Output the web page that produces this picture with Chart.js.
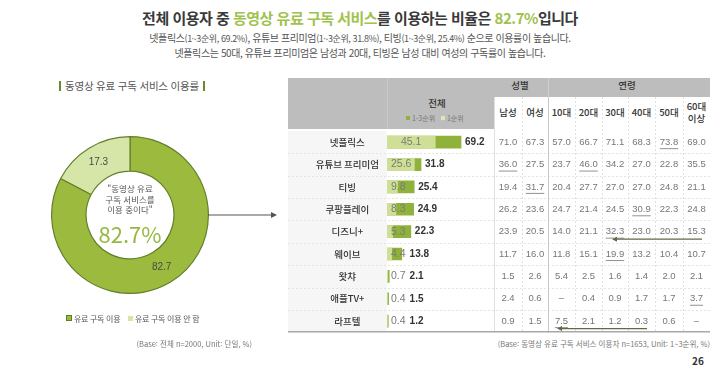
<!DOCTYPE html>
<html lang="ko">
<head>
<meta charset="utf-8">
<script src="https://cdn.jsdelivr.net/npm/chart.js@4.4.1/dist/chart.umd.min.js"></script>
<style>
  body { margin: 0; width: 720px; height: 377px; background: #fff; position: relative; overflow: hidden;
         font-family: "Noto Sans CJK KR", "Noto Sans", sans-serif; color: #333; }
  .abs { position: absolute; }
  .title { top: 8px; left: 0; width: 720px; text-align: center; font-size: 15px; font-weight: 700;
           line-height: 20px; letter-spacing: -0.5px; color: #3a3a3a; }
  .title span { color: #a0c24e; }
  .sub { left: 0; width: 720px; text-align: center; font-size: 10px; line-height: 14px; color: #555; letter-spacing: -0.4px; }
  .sub small { font-size: 9px; }
  .sect { left: 55px; top: 79px; font-size: 10.5px; line-height: 14px; color: #555; letter-spacing: -0.2px; }
  .sect b { display: inline-block; width: 2px; height: 10px; background: #6b8a2a; vertical-align: -1px; margin: 0 4px; }
  .quote { left: 80px; top: 183px; width: 100px; text-align: center; font-size: 8.5px; line-height: 10.5px; color: #555; }
  .big { left: 70px; top: 219px; width: 120px; text-align: center; font-size: 22px; line-height: 28px; color: #96b843; }
  .leg { top: 313px; font-size: 8px; line-height: 12px; color: #555; letter-spacing: -0.3px; }
  .sq { display: inline-block; width: 5px; height: 5px; margin-right: 2px; vertical-align: 1px; }
  .base { font-size: 7.5px; line-height: 10px; color: #777; white-space: nowrap; }
  .hd { background: #bdbdbd; }
  .th { font-size: 9.5px; line-height: 12px; color: #333; font-weight: 500; text-align: center; white-space: nowrap; }
</style>
</head>
<body>
<div class="abs title">전체 이용자 중 <span>동영상 유료 구독 서비스</span>를 이용하는 비율은 <span>82.7%</span>입니다</div>
<div class="abs sub" style="top:31px">넷플릭스<small>(1~3순위, 69.2%)</small>, 유튜브 프리미엄<small>(1~3순위, 31.8%)</small>, 티빙<small>(1~3순위, 25.4%)</small> 순으로 이용률이 높습니다.</div>
<div class="abs sub" style="top:46px">넷플릭스는 50대, 유튜브 프리미엄은 남성과 20대, 티빙은 남성 대비 여성의 구독률이 높습니다.</div>

<div class="abs sect"><b></b>동영상 유료 구독 서비스 이용률<b></b></div>

<div class="abs" style="left:51px;top:136px;width:158px;height:158px"><canvas id="donut"></canvas></div>
<div class="abs quote">"동영상 유료<br>구독 서비스를<br>이용 중이다"</div>
<div class="abs big">82.7%</div>

<div class="abs leg" style="left:66px"><span class="sq" style="background:#9cbb3e;border:1px solid #5f7d22;width:4px;height:4px"></span>유료 구독 이용</div>
<div class="abs leg" style="left:128px"><span class="sq" style="background:#d6e6a8"></span>유료 구독 이용 안 함</div>
<div class="abs base" style="right:468px;top:339px">(Base: 전체 n=2000, Unit: 단일, %)</div>

<svg class="abs" style="left:205px;top:209px" width="75" height="12">
  <line x1="3" y1="6" x2="68" y2="6" stroke="#555" stroke-width="1"/>
  <path d="M66 3 L72 6 L66 9 Z" fill="#555"/>
</svg>

<div class="abs hd" style="left:288px;top:78px;width:422px;height:19px"></div>
<div class="abs hd" style="left:288px;top:97px;width:206px;height:32px"></div>
<div class="abs" style="left:387px;top:78px;width:1px;height:51px;background:#cacaca"></div>
<div class="abs" style="left:548px;top:78px;width:1px;height:19px;background:#cfcfcf"></div>
<div class="abs th" style="left:490px;top:79px;width:60px">성별</div>
<div class="abs th" style="left:597px;top:79px;width:60px">연령</div>
<div class="abs th" style="left:407px;top:97px;width:60px">전체</div>
<div class="abs" style="left:406px;top:113px;font-size:7px;line-height:10px;color:#777;white-space:nowrap">
  <span class="sq" style="background:#8fb33a;width:4px;height:4px"></span>1-3순위&nbsp;&nbsp;
  <span class="sq" style="background:#dbe8b4;width:4px;height:4px"></span>1순위</div>
<div id="subhead"></div>

<div class="abs" style="left:288px;top:97px;width:422px;height:241px"><canvas id="bars"></canvas></div>

<div class="abs base" style="right:10px;top:339px">(Base: 동영상 유료 구독 서비스 이용자 n=1653, Unit: 1~3순위, %)</div>
<div class="abs" style="left:688px;top:353px;width:20px;text-align:center;font-size:10px;font-weight:700;color:#333">26</div>

<script>
const donutLabels = ['유료 구독 이용', '유료 구독 이용 안 함'];
const donutValues = [82.7, 17.3];

const services = ['넷플릭스', '유튜브 프리미엄', '티빙', '쿠팡플레이', '디즈니+', '웨이브', '왓챠', '애플TV+', '라프텔'];
const top1 = [45.1, 25.6, 9.8, 8.3, 5.3, 4.4, 0.7, 0.4, 0.4];
const top3 = [69.2, 31.8, 25.4, 24.9, 22.3, 13.8, 2.1, 1.5, 1.2];

const segments = ['남성', '여성', '10대', '20대', '30대', '40대', '50대', '60대\n이상'];
const male   = [71.0, 36.0, 19.4, 26.2, 23.9, 11.7, 1.5, 2.4, 0.9];
const female = [67.3, 27.5, 31.7, 23.6, 20.5, 16.0, 2.6, 0.6, 1.5];
const age10  = [57.0, 23.7, 20.4, 24.7, 14.0, 11.8, 5.4, null, 7.5];
const age20  = [66.7, 46.0, 27.7, 21.4, 21.1, 15.1, 2.5, 0.4, 2.1];
const age30  = [71.1, 34.2, 27.0, 24.5, 32.3, 19.9, 1.6, 0.9, 1.2];
const age40  = [68.3, 27.0, 27.0, 30.9, 23.0, 13.2, 1.4, 1.7, 0.3];
const age50  = [73.8, 22.8, 24.8, 22.3, 20.3, 10.4, 2.0, 1.7, 0.6];
const age60  = [69.0, 35.5, 21.1, 24.8, 15.3, 10.7, 2.1, 3.7, null];
// [row, column] of the underlined (highest) cells
const underlined = [[0, 6], [1, 0], [1, 3], [2, 1], [3, 5], [4, 4], [5, 4], [7, 7], [8, 2]];

const columns = [male, female, age10, age20, age30, age40, age50, age60];
const colX = [220, 247, 273.5, 300.5, 327, 353.5, 381, 408.5];   // canvas px, column centres
const lineX = [206, 234, 260, 287, 314, 340, 367, 395];

// sub header of the table
let sh = '';
segments.forEach(function (s, i) {
  const lines = s.split('\n');
  const top = lines.length > 1 ? 100 : 106;
  sh += '<div class="abs th" style="left:' + (288 + colX[i] - 20) + 'px;top:' + top + 'px;width:40px">' + lines.join('<br>') + '</div>';
});
document.getElementById('subhead').innerHTML = sh;

const donutText = {
  id: 'donutText',
  afterDatasetsDraw(chart) {
    const ctx = chart.ctx;
    ctx.save();
    ctx.font = '10px "Liberation Sans", sans-serif';
    ctx.fillStyle = '#4a4a4a';
    ctx.textAlign = 'center';
    ctx.textBaseline = 'middle';
    chart.getDatasetMeta(0).data.forEach(function (arc, i) {
      const p = arc.tooltipPosition();
      ctx.fillText(donutValues[i].toFixed(1), p.x, p.y);
    });
    ctx.restore();
  }
};

new Chart(document.getElementById('donut'), {
  type: 'doughnut',
  data: {
    labels: donutLabels,
    datasets: [{
      data: donutValues,
      backgroundColor: ['#9cbb3e', '#d6e6a8'],
      borderColor: '#62802a',
      borderWidth: 1.2
    }]
  },
  options: {
    responsive: true,
    maintainAspectRatio: false,
    animation: false,
    cutout: '56%',
    plugins: { legend: { display: false }, tooltip: { enabled: false } }
  },
  plugins: [donutText]
});

const tableText = {
  id: 'tableText',
  beforeDraw(chart) {
    const ctx = chart.ctx;
    const y = chart.scales.y;
    const top = chart.chartArea.top, bottom = chart.chartArea.bottom;
    ctx.save();
    ctx.fillStyle = '#f6f6f6';
    ctx.fillRect(0, top, chart.chartArea.left, bottom - top);
    // row separators
    ctx.strokeStyle = '#e4e4e4';
    ctx.lineWidth = 1;
    ctx.setLineDash([2, 2]);
    for (let i = 1; i < services.length; i++) {
      const yy = Math.round((y.getPixelForValue(i - 1) + y.getPixelForValue(i)) / 2) + 0.5;
      ctx.beginPath(); ctx.moveTo(0, yy); ctx.lineTo(chart.width, yy); ctx.stroke();
    }
    // column lines
    lineX.forEach(function (x, i) {
      ctx.setLineDash(i === 0 || i === 2 ? [] : [2, 2]);
      ctx.strokeStyle = i === 2 ? '#c8c8c8' : '#e0e0e0';
      ctx.beginPath(); ctx.moveTo(x + 0.5, 0); ctx.lineTo(x + 0.5, bottom); ctx.stroke();
    });
    ctx.setLineDash([]);
    ctx.strokeStyle = '#a8a8a8';
    ctx.lineWidth = 1.5;
    ctx.beginPath(); ctx.moveTo(0, bottom - 0.5); ctx.lineTo(chart.width, bottom - 0.5); ctx.stroke();
    ctx.restore();
  },
  afterDatasetsDraw(chart) {
    const ctx = chart.ctx;
    const x = chart.scales.x, y = chart.scales.y;
    ctx.save();
    ctx.textBaseline = 'middle';
    ctx.textAlign = 'left';
    services.forEach(function (s, i) {
      const yy = y.getPixelForValue(i);
      const x0 = x.getPixelForValue(0);
      const x1 = x.getPixelForValue(top1[i]);
      const x3 = x.getPixelForValue(top3[i]);
      ctx.font = '10.5px "Liberation Sans", sans-serif';
      ctx.fillStyle = '#7a7a7a';
      const t1 = top1[i].toFixed(1);
      const w1 = ctx.measureText(t1).width;
      const tx1 = Math.max(x0 + 4, (x0 + x1) / 2 - w1 / 2);
      ctx.fillText(t1, tx1, yy);
      ctx.font = 'bold 10px "Liberation Sans", sans-serif';
      ctx.fillStyle = '#333';
      ctx.fillText(top3[i].toFixed(1), Math.max(x3 + 4, tx1 + w1 + 4), yy);
    });
    // cells
    ctx.textAlign = 'center';
    ctx.font = '9.5px "Liberation Sans", sans-serif';
    ctx.fillStyle = '#767676';
    ctx.strokeStyle = '#767676';
    ctx.lineWidth = 0.8;
    columns.forEach(function (col, c) {
      col.forEach(function (v, r) {
        const yy = y.getPixelForValue(r);
        const t = v === null ? '–' : v.toFixed(1);
        ctx.fillText(t, colX[c], yy);
        if (underlined.some(function (u) { return u[0] === r && u[1] === c; })) {
          const w = ctx.measureText(t).width;
          ctx.beginPath(); ctx.moveTo(colX[c] - w / 2, yy + 6.5); ctx.lineTo(colX[c] + w / 2, yy + 6.5); ctx.stroke();
        }
      });
    });
    // arrows
    ctx.strokeStyle = '#5e6b45';
    ctx.fillStyle = '#5e6b45';
    ctx.lineWidth = 1.2;
    [[4, 414, 324], [8, 359, 269]].forEach(function (a) {
      const yy = y.getPixelForValue(a[0]) + 7.5;
      ctx.beginPath(); ctx.moveTo(a[1], yy); ctx.lineTo(a[2] + 3, yy); ctx.stroke();
      ctx.beginPath(); ctx.moveTo(a[2], yy); ctx.lineTo(a[2] + 5, yy - 2.5); ctx.lineTo(a[2] + 5, yy + 2.5); ctx.closePath(); ctx.fill();
    });
    ctx.restore();
  }
};

new Chart(document.getElementById('bars'), {
  type: 'bar',
  data: {
    labels: services,
    datasets: [
      { label: '1순위', data: top1, backgroundColor: '#cfe096', barThickness: 12, grouped: false },
      { label: '1-3순위', data: top3, backgroundColor: '#8fb33a', barThickness: 12, grouped: false }
    ]
  },
  options: {
    indexAxis: 'y',
    responsive: true,
    maintainAspectRatio: false,
    animation: false,
    layout: { padding: { top: 34, right: 216, left: 0, bottom: 0 } },
    scales: {
      x: { display: false, min: 0, max: 100 },
      y: {
        grid: { display: false },
        border: { display: false },
        afterFit: function (scale) { scale.width = 99; },
        ticks: {
          crossAlign: 'center',
          padding: 0,
          color: '#333',
          font: { family: '"Noto Sans CJK KR", sans-serif', size: 9.5, weight: '500' }
        }
      }
    },
    plugins: { legend: { display: false }, tooltip: { enabled: false } }
  },
  plugins: [tableText]
});
</script>
</body>
</html>
